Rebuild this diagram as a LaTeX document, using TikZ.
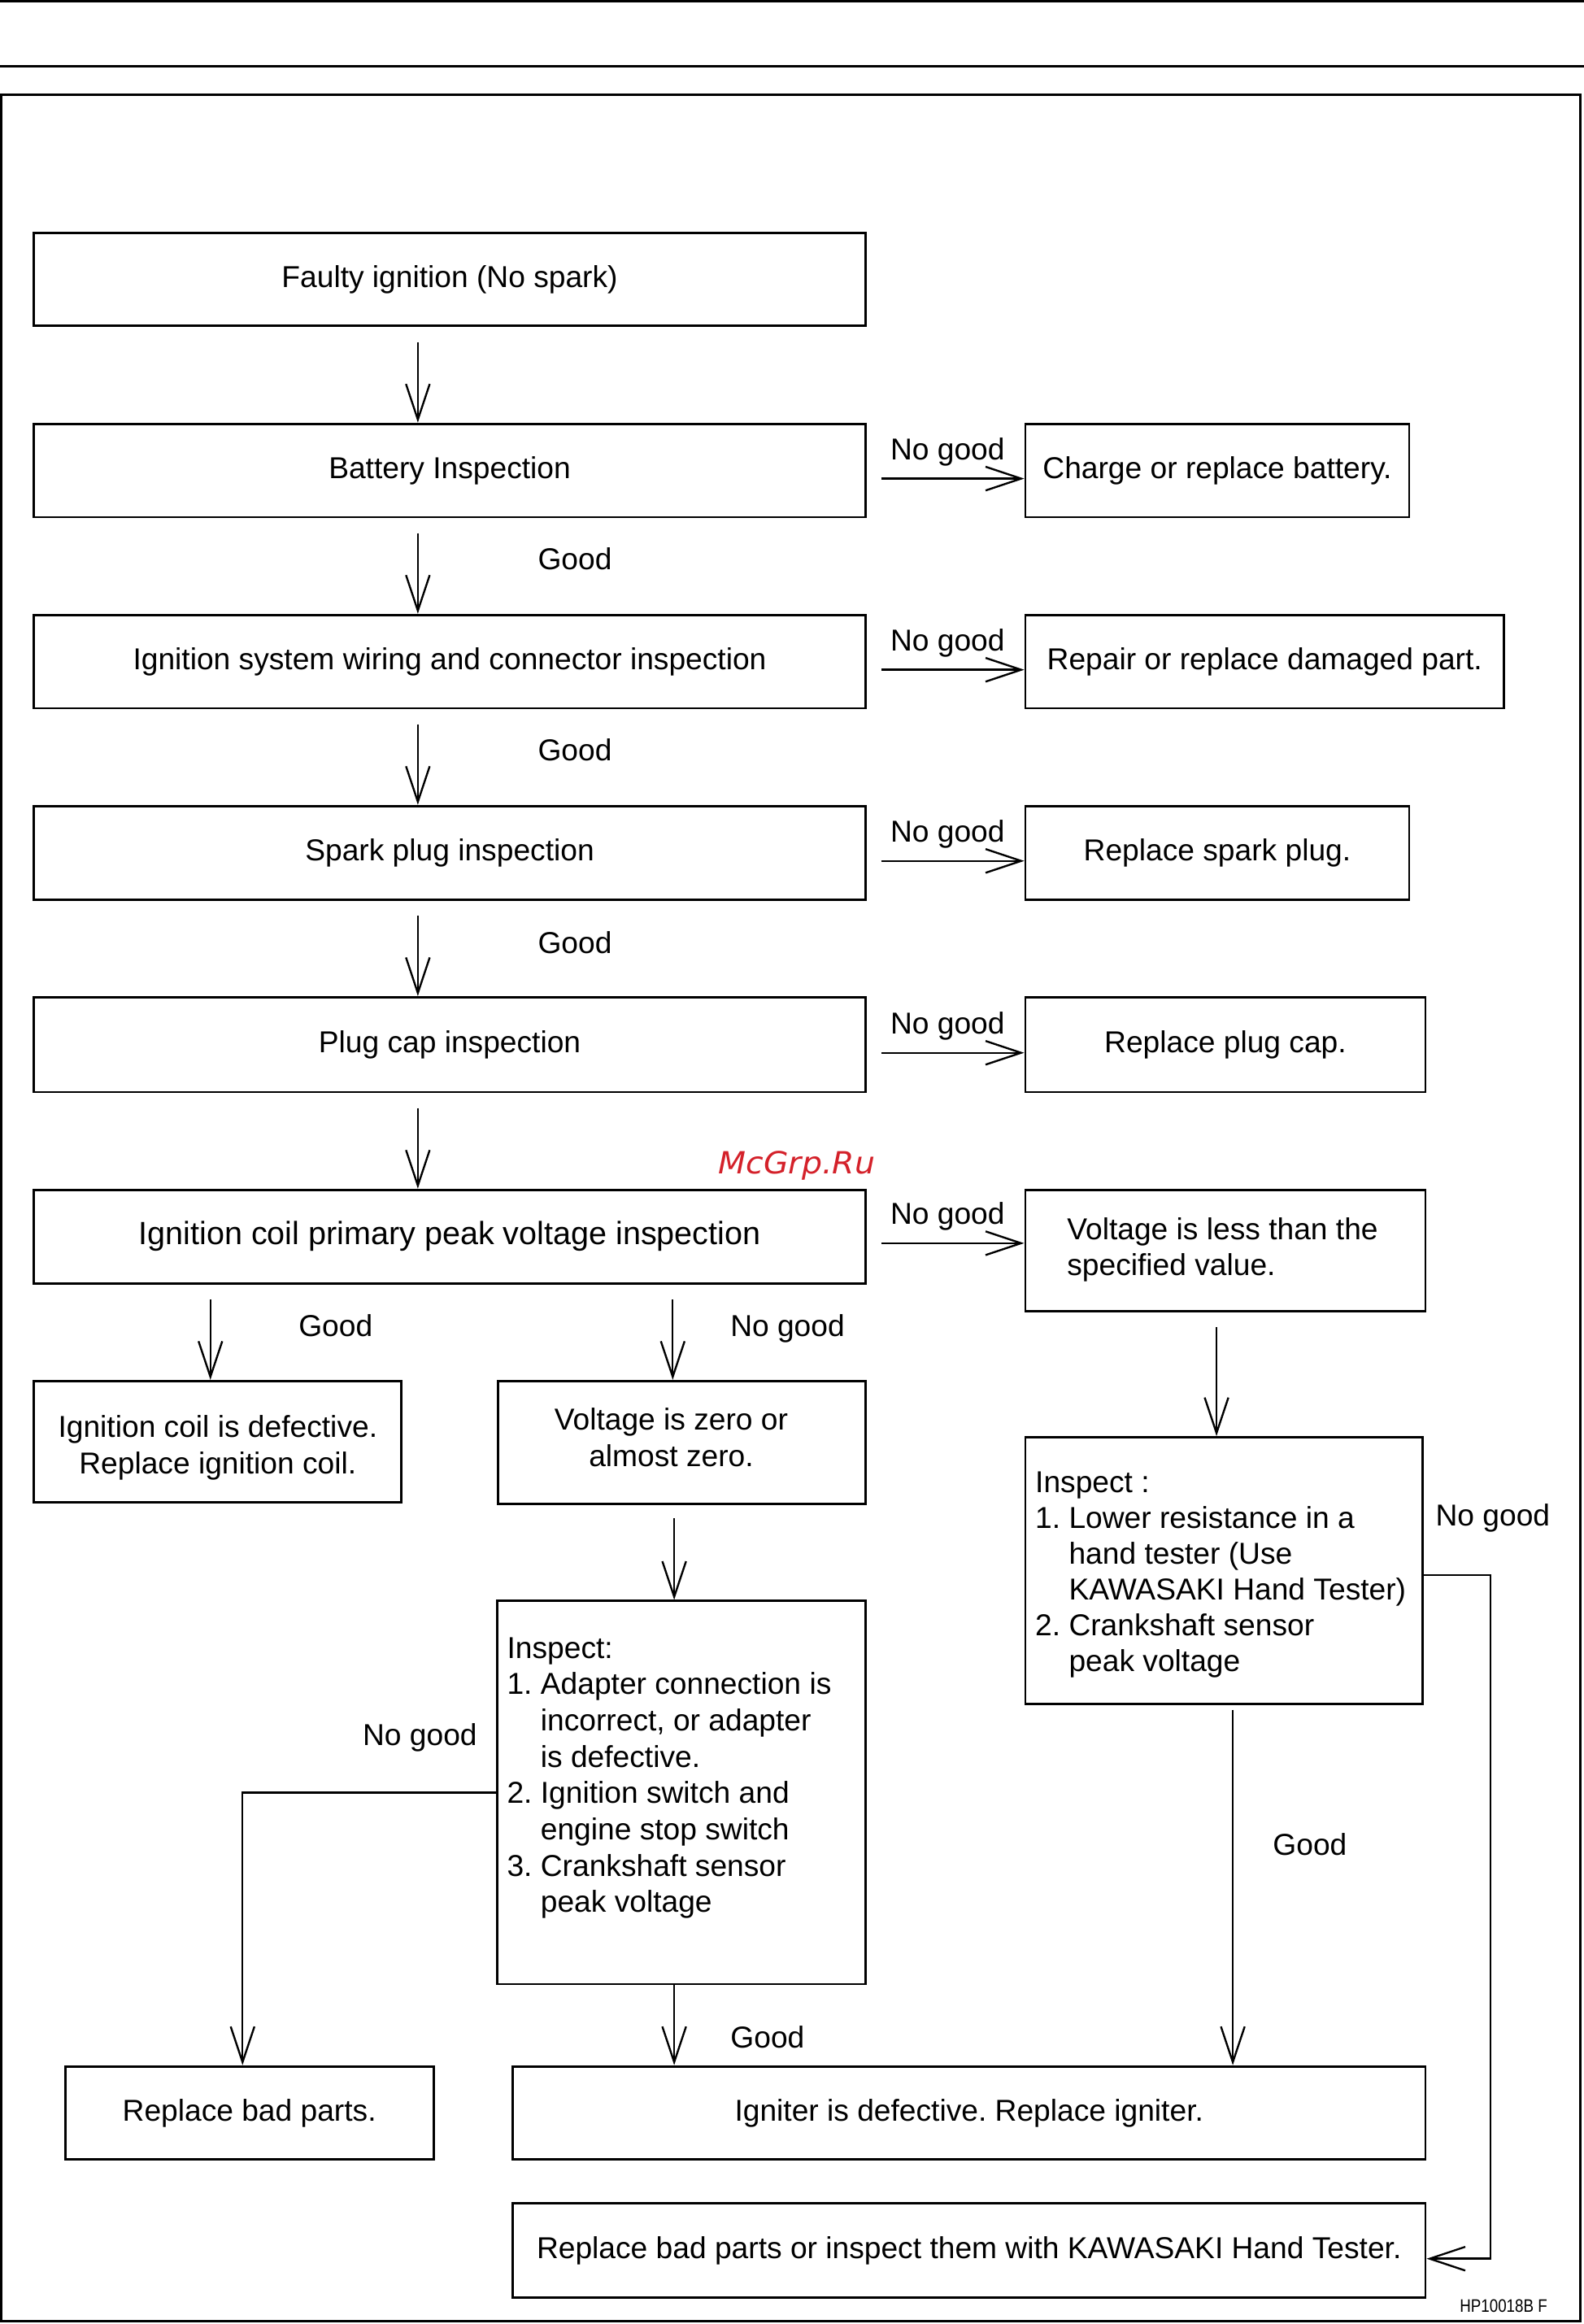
\documentclass[tikz,border=0pt]{standalone}
\usepackage{fontspec}
\setmainfont{Liberation Sans}
\newfontfamily\wmfont{DejaVu Sans}
\usepackage{graphicx}
\usetikzlibrary{arrows.meta}
\definecolor{wmred}{RGB}{212,33,42}
\begin{document}
\frenchspacing
\begin{tikzpicture}[x=1pt,y=-1pt,
  font=\fontsize{20.4}{24.5}\selectfont\frenchspacing,
  box/.style={draw,line width=1.6pt,inner sep=0pt,align=center},
  arr/.style={line width=1.3pt,-{Straight Barb[length=24pt,width=16pt]}},
  lbl/.style={inner sep=0pt,anchor=base},
  txt/.style={inner sep=0pt,anchor=base west}]
\useasboundingbox (0,0) rectangle (1069,1568.4);
% page rules and frame
\draw[line width=1.4pt] (0,0.7) -- (1069,0.7);
\draw[line width=1.4pt] (0,44.7) -- (1069,44.7);
\draw[line width=1.8pt] (1,63.9) rectangle (1066.5,1566.5);
% main column
\node[box,minimum width=561pt,minimum height=63pt] (b1) at (303.5,188.5) {Faulty ignition (No spark)};
\node[box,minimum width=561pt,minimum height=63pt] (b2) at (303.5,317.5) {Battery Inspection};
\node[box,minimum width=561pt,minimum height=63pt] (b3) at (303.5,446.5) {Ignition system wiring and connector inspection};
\node[box,minimum width=561pt,minimum height=63pt] (b4) at (303.5,575.5) {Spark plug inspection};
\node[box,minimum width=561pt,minimum height=64pt] (b5) at (303.5,705) {Plug cap inspection};
\node[box,minimum width=561pt,minimum height=63pt,font=\fontsize{21.7}{26}\selectfont] (b6) at (303.5,834.5) {Ignition coil primary peak voltage inspection};
% right column
\node[box,minimum width=259pt,minimum height=63pt] (r2) at (821.5,317.5) {Charge or replace battery.};
\node[box,minimum width=323pt,minimum height=63pt] (r3) at (853.5,446.5) {Repair or replace damaged part.};
\node[box,minimum width=259pt,minimum height=63pt] (r4) at (821.5,575.5) {Replace spark plug.};
\node[box,minimum width=270pt,minimum height=64pt] (r5) at (827,705) {Replace plug cap.};
\node[box,minimum width=270pt,minimum height=82pt] (r6) at (827,844) {};
\node[txt] (r6t1) at (720,836.5) {Voltage is less than the};
\node[txt] (r6t2) at (720,860.5) {specified value.};
% second level
\node[box,minimum width=248pt,minimum height=82pt] (c1) at (147,973) {};
\node[inner sep=0pt,align=center] (c1t) at (147,977) {Ignition coil is defective.\\Replace ignition coil.};
\node[box,minimum width=248pt,minimum height=83pt] (c2) at (460,973.5) {};
\node[inner sep=0pt,align=center] (c2t) at (453,970) {Voltage is zero or\\almost zero.};
% inspect boxes
\node[box,minimum width=248.5pt,minimum height=258.5pt] (li) at (460,1209.75) {};
\foreach \t [count=\i] in {{Inspect:},{1. Adapter connection is},{\hphantom{1. }incorrect, or adapter},{\hphantom{1. }is defective.},{2. Ignition switch and},{\hphantom{2. }engine stop switch},{3. Crankshaft sensor},{\hphantom{3. }peak voltage}}
  \node[txt] (li\i) at (342,{1119.1+24.5*(\i-1)}) {\t};
\node[box,minimum width=268pt,minimum height=180pt] (ri) at (826,1060) {};
\foreach \t [count=\i] in {{Inspect :},{1. Lower resistance in a},{\hphantom{1. }hand tester (Use},{\hphantom{1. }KAWASAKI Hand Tester)},{2. Crankshaft sensor},{\hphantom{2. }peak voltage}}
  \node[txt] (ri\i) at (698.5,{1007.5+24.1*(\i-1)}) {\t};
% bottom boxes
\node[box,minimum width=248.5pt,minimum height=63pt] (rbp) at (168.3,1426) {Replace bad parts.};
\node[box,minimum width=616pt,minimum height=63pt] (ig) at (654,1426) {Igniter is defective. Replace igniter.};
\node[box,minimum width=616pt,minimum height=63.6pt] (fin) at (654,1518.8) {Replace bad parts or inspect them with KAWASAKI Hand Tester.};
% connectors
\foreach \a/\b in {b1/b2,b2/b3,b3/b4,b4/b5,b5/b6}
  \draw[arr] ([xshift=-21.5pt,yshift=-10pt]\a.south) -- ([xshift=-21.5pt]\b.north);
\foreach \a/\b in {b2/r2,b3/r3,b4/r4,b5/r5}
  \draw[arr] ([xshift=10pt,yshift=-5.5pt]\a.east) -- ([yshift=-5.5pt]\b.west);
\draw[arr] ([xshift=10pt,yshift=-4.5pt]b6.east) -- ([yshift=5pt]r6.west);
\draw[arr] ([xshift=-161.5pt,yshift=-10pt]b6.south) -- ([xshift=-5pt]c1.north);
\draw[arr] ([xshift=150.5pt,yshift=-10pt]b6.south) -- ([xshift=-6pt]c2.north);
\draw[arr] ([xshift=-6pt,yshift=-10pt]r6.south) -- ([xshift=-5pt]ri.north);
\draw[arr] ([xshift=-5pt,yshift=-9pt]c2.south) -- ([xshift=-5pt]li.north);
\draw[arr] (li.west) -| ([xshift=-4.6pt]rbp.north);
\draw[arr] ([xshift=-5pt]li.south) -- ([xshift=-199pt]ig.north);
\draw[arr] ([xshift=6pt,yshift=-3pt]ri.south) -- ([xshift=178pt]ig.north);
\coordinate (k) at (1006,1063);
\draw[arr] ([yshift=-3pt]ri.east) -- (k) |- ([yshift=-5.5pt]fin.east);
% labels
\node[lbl] (ng2) at (639.5,310.3) {No good};
\node[lbl] (ng3) at (639.5,439.3) {No good};
\node[lbl] (ng4) at (639.5,568.3) {No good};
\node[lbl] (ng5) at (639.5,697.8) {No good};
\node[lbl] (ng6) at (639.5,826.3) {No good};
\node[lbl] (g2) at (388,384.3) {Good};
\node[lbl] (g3) at (388,513.3) {Good};
\node[lbl] (g4) at (388,643.3) {Good};
\node[lbl] (g6a) at (226.5,901.8) {Good};
\node[lbl] (ng6b) at (531.5,901.8) {No good};
\node[lbl] (ngl) at (283.4,1178) {No good};
\node[lbl] (gl) at (518,1382) {Good};
\node[lbl] (gr) at (884,1252) {Good};
\node[lbl] (ngr) at (1007.5,1030) {No good};
% watermark and code
\node[lbl,text=wmred] (wm) at (537.7,792) {\wmfont\fontsize{20.6}{24}\selectfont\itshape\scalebox{1.05}[1]{McGrp.Ru}};
\node[lbl,anchor=base west] (hp) at (985,1560.4) {\fontsize{12.2}{14}\selectfont\scalebox{0.845}[1]{HP10018B F}};
\end{tikzpicture}
\end{document}
